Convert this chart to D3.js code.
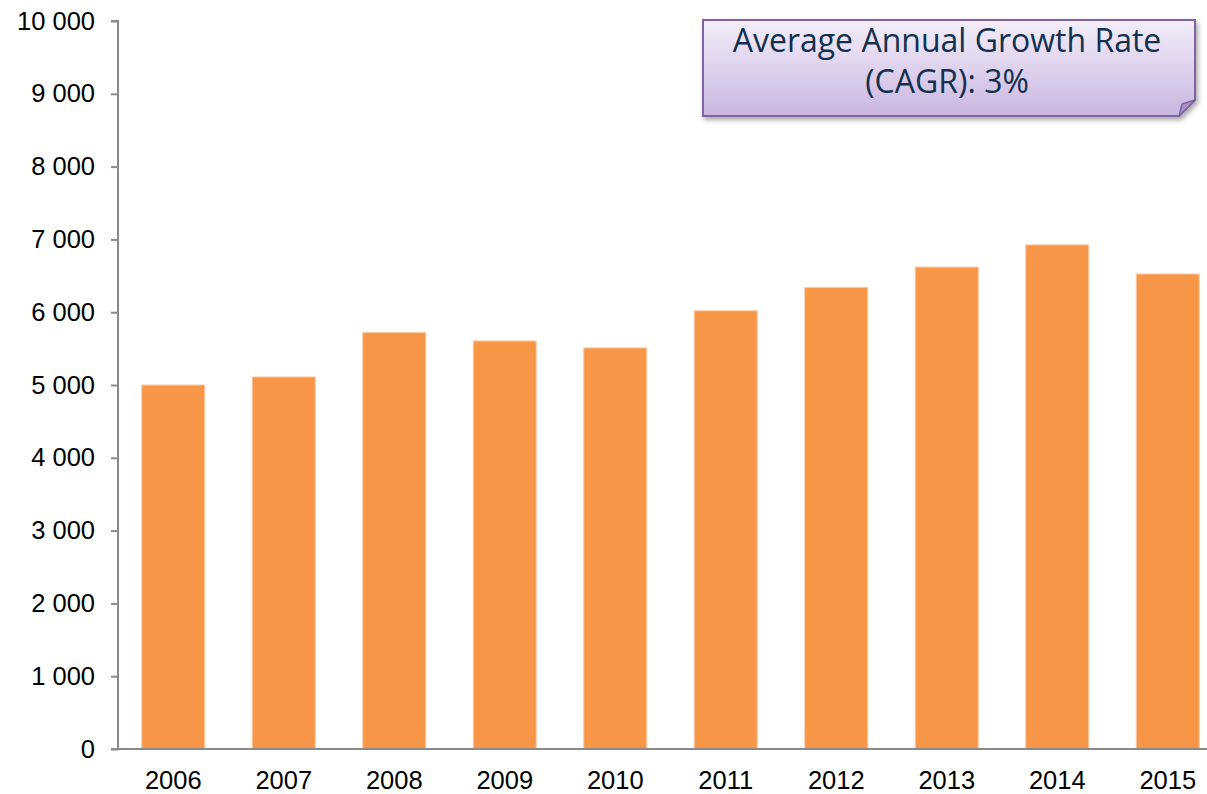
<!DOCTYPE html>
<html lang="en">

<head>
    <meta charset="UTF-8">
    <title>Annual values 2006-2015</title>
    <style>
        body {
            margin: 0;
            background: white;
        }

        .axis text {
            font-family: 'Liberation Sans', Arial, sans-serif;
            font-size: 25.5px;
            fill: black;
        }

        .axis path,
        .axis line {
            stroke: #8a8a8a;
            stroke-width: 2px;
        }

        .callout-text {
            font-family: 'Open Sans', 'Noto Sans', sans-serif;
            font-size: 32px;
            fill: #142f4f;
        }
    </style>
</head>

<body>
    <div id="chart"></div>

    <script src="https://d3js.org/d3.v7.min.js"></script>
    <script>
        // Data
        const years = ["2006", "2007", "2008", "2009", "2010", "2011", "2012", "2013", "2014", "2015"];
        const values = [5000, 5110, 5720, 5605, 5510, 6020, 6340, 6620, 6925, 6525];
        const yTicks = [0, 1000, 2000, 3000, 4000, 5000, 6000, 7000, 8000, 9000, 10000];
        const calloutLines = ["Average Annual Growth Rate", "(CAGR): 3%"];

        const width = 1207;
        const height = 794;
        const margin = { top: 21, left: 118, bottom: 45 };

        const svg = d3.select("#chart").append("svg")
            .attr("width", width)
            .attr("height", height);

        const x = d3.scaleBand()
            .domain(years)
            .range([margin.left, margin.left + 1105])
            .paddingInner(0.43)
            .paddingOuter(0.215);

        const y = d3.scaleLinear()
            .domain([0, 10000])
            .range([height - margin.bottom, margin.top]);

        // bars
        svg.selectAll("rect.bar")
            .data(years)
            .enter()
            .append("rect")
            .attr("class", "bar")
            .attr("x", d => x(d))
            .attr("width", x.bandwidth())
            .attr("y", (d, i) => y(values[i]))
            .attr("height", (d, i) => y(0) - y(values[i]))
            .attr("fill", "#f79646")
            .attr("stroke", "#fbc9a2")
            .attr("stroke-width", 1);

        // y axis
        const fmt = v => d3.format(",")(v).replace(/,/g, " ");
        svg.append("g")
            .attr("class", "axis")
            .attr("transform", `translate(${margin.left},0)`)
            .call(d3.axisLeft(y).tickValues(yTicks).tickFormat(fmt).tickSize(7).tickPadding(16))
            .call(g => g.select(".domain").attr("d", `M-7,${y(10000)}H0V${y(0)}`));

        // x axis
        svg.append("g")
            .attr("class", "axis")
            .attr("transform", `translate(0,${y(0)})`)
            .call(d3.axisBottom(x).tickSize(0).tickPadding(22))
            .call(g => g.select(".domain").attr("d", `M${margin.left - 7},0H${margin.left + 1105}`));

        // callout box with folded corner
        const box = { x0: 703, y0: 20, x1: 1195, y1: 116, fold: 16 };
        const defs = svg.append("defs");
        const grad = defs.append("linearGradient")
            .attr("id", "calloutFill")
            .attr("x1", 0).attr("y1", 0).attr("x2", 0).attr("y2", 1);
        grad.append("stop").attr("offset", "0%").attr("stop-color", "#f3eef9");
        grad.append("stop").attr("offset", "100%").attr("stop-color", "#c9b6e0");

        const filter = defs.append("filter").attr("id", "shadow")
            .attr("x", "-10%").attr("y", "-10%").attr("width", "120%").attr("height", "140%");
        filter.append("feDropShadow")
            .attr("dx", 2).attr("dy", 3).attr("stdDeviation", 2.5)
            .attr("flood-color", "#000").attr("flood-opacity", 0.35);

        const outline = `M${box.x0},${box.y0}H${box.x1}V${box.y1 - box.fold}L${box.x1 - box.fold},${box.y1}H${box.x0}Z`;
        svg.append("path")
            .attr("d", outline)
            .attr("fill", "url(#calloutFill)")
            .attr("stroke", "#8064a2")
            .attr("stroke-width", 2)
            .attr("filter", "url(#shadow)");

        svg.append("path")
            .attr("d", `M${box.x1},${box.y1 - box.fold}L${box.x1 - 13},${box.y1 - 12}L${box.x1 - box.fold},${box.y1}Z`)
            .attr("fill", "#a892c4")
            .attr("stroke", "#8064a2")
            .attr("stroke-width", 1.5)
            .attr("stroke-linejoin", "round");

        svg.selectAll("text.callout-text")
            .data(calloutLines)
            .enter()
            .append("text")
            .attr("class", "callout-text")
            .attr("x", (box.x0 + box.x1) / 2 - 2)
            .attr("y", (d, i) => 52 + i * 41)
            .attr("text-anchor", "middle")
            .text(d => d);
    </script>
</body>

</html>
